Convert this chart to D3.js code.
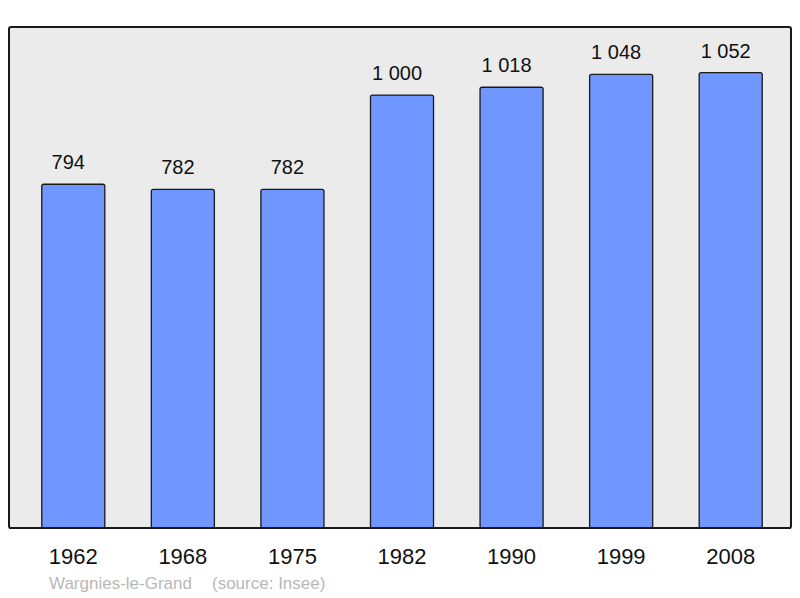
<!DOCTYPE html>
<html>
<head>
<meta charset="utf-8">
<script src="https://cdn.jsdelivr.net/npm/d3@7"></script>
<style>
  body { margin: 0; background: #fff; }
  svg { display: block; font-family: "Liberation Sans", Arial, sans-serif; }
</style>
</head>
<body>
<div id="chart"></div>
<script>
const years = ["1962", "1968", "1975", "1982", "1990", "1999", "2008"];
const population = [794, 782, 782, 1000, 1018, 1048, 1052];
const commune = "Wargnies-le-Grand";
const source = "(source: Insee)";

let svgWidth = 800,
    svgHeight = 598;

let svg = d3.select("#chart")
  .append("svg")
  .attr("width", svgWidth)
  .attr("height", svgHeight);

// plot panel
let panel = { left: 9, top: 27, right: 791, bottom: 528 };

let fmt = d3.formatLocale({ decimal: ",", thousands: " ", grouping: [3], currency: ["", ""] }).format(",d");

let x = d3.scaleBand()
  .domain(years)
  .range([18.5, 785.5])
  .paddingInner(0.4245)
  .paddingOuter(0.2123);

let y = d3.scaleLinear()
  .domain([0, d3.max(population) * 1.1])
  .range([panel.bottom, panel.top]);

svg.append("rect")
  .attr("x", panel.left)
  .attr("y", panel.top)
  .attr("width", panel.right - panel.left)
  .attr("height", panel.bottom - panel.top)
  .attr("rx", 2)
  .attr("fill", "#ebebeb")
  .attr("stroke", "#1a1a1a")
  .attr("stroke-width", 2);

let data = years.map((d, i) => ({ year: d, value: population[i] }));

svg.append("g").selectAll("rect")
  .data(data)
  .enter().append("rect")
    .attr("x", d => x(d.year))
    .attr("y", d => y(d.value))
    .attr("width", x.bandwidth())
    .attr("height", d => panel.bottom - y(d.value))
    .attr("rx", 2)
    .attr("fill", "#7096ff")
    .attr("stroke", "#1a1a1a")
    .attr("stroke-width", 1.3);

// redraw bottom edge of panel over bar bases
svg.append("line")
  .attr("x1", panel.left).attr("x2", panel.right)
  .attr("y1", panel.bottom).attr("y2", panel.bottom)
  .attr("stroke", "#1a1a1a")
  .attr("stroke-width", 2);

// value labels sit a little left of bar centre, as in the original
svg.append("g").selectAll("text")
  .data(data)
  .enter().append("text")
    .attr("x", d => x(d.year) + x.bandwidth() / 2 - 5)
    .attr("y", d => y(d.value) - 15)
    .attr("text-anchor", "middle")
    .attr("font-size", "20px")
    .attr("fill", "#111")
    .text(d => fmt(d.value));

svg.append("g").selectAll("text")
  .data(years)
  .enter().append("text")
    .attr("x", d => x(d) + x.bandwidth() / 2)
    .attr("y", 564)
    .attr("text-anchor", "middle")
    .attr("font-size", "22px")
    .attr("fill", "#111")
    .text(d => d);

svg.append("text")
  .attr("x", 49)
  .attr("y", 589)
  .attr("font-size", "17px")
  .attr("fill", "#b8b8b8")
  .text(commune);

svg.append("text")
  .attr("x", 212)
  .attr("y", 589)
  .attr("font-size", "17px")
  .attr("fill", "#b8b8b8")
  .text(source);
</script>
</body>
</html>
